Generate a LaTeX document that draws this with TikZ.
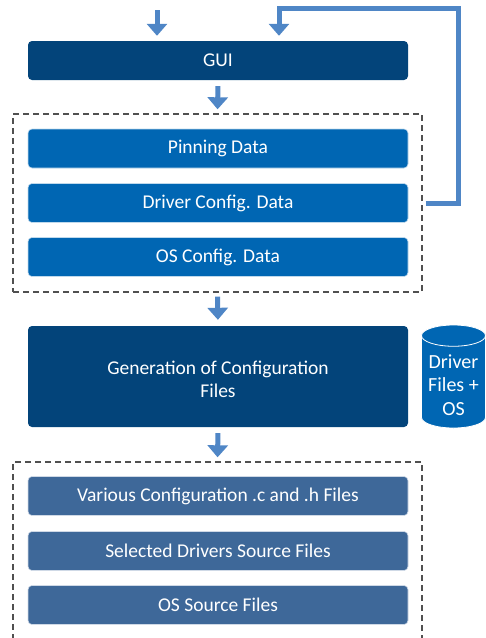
\documentclass[tikz,border=0pt]{standalone}
\usepackage{fontspec}
\setmainfont{Carlito}
\usepackage{tikz}
\usetikzlibrary{arrows.meta}
\usetikzlibrary{shapes.geometric}
\definecolor{guiblue}{HTML}{03447A}
\definecolor{datablue}{HTML}{0066B3}
\definecolor{fileblue}{HTML}{3E6899}
\definecolor{arrowblue}{HTML}{4F86C6}
\definecolor{frame}{HTML}{505050}

\begin{document}
\begin{tikzpicture}[
	x=1pt, y=-1pt,
	box/.style = {
		rectangle, rounded corners=4pt,
		minimum width=380pt, minimum height=39pt,
		text=white, font=\fontsize{19.5}{23}\selectfont,
		align=center, inner sep=0pt
	},
	databox/.style = {box, fill=datablue, draw=white!75!datablue, line width=0.6pt},
	filebox/.style = {box, fill=fileblue, draw=white!75!fileblue, line width=0.6pt},
	mainbox/.style = {box, fill=guiblue},
	group/.style = {
		rectangle, draw=frame, line width=1.4pt,
		dash pattern=on 6pt off 4pt,
		minimum width=409pt, inner sep=0pt
	},
	flow/.style = {
		draw=arrowblue, line width=5pt,
		-{Triangle[width=20pt, length=12pt]}
	},
	store/.style = {
		cylinder, shape border rotate=90, aspect=0.42,
		fill=datablue, draw=white, line width=0.8pt,
		minimum width=64pt, minimum height=103pt,
		inner sep=0pt, text=white, align=center,
		font=\fontsize{20}{23.5}\selectfont
	}
]
	\clip (0, 0) rectangle (486, 638);
	% GUI
	\node[mainbox] (gui) at (218, 60.5) {GUI};
	\coordinate (in) at (157, 10);
	\coordinate (ret) at (279, 8);
	% Configuration data
	\node[group, minimum height=178pt] (data) at (217.5, 203) {};
	\node[databox] (pin) at (218, 148.5) {Pinning Data};
	\node[databox] (drv) at (218, 203) {Driver Config. Data};
	\node[databox] (os) at (218, 257) {OS Config. Data};
	% Generation
	\node[mainbox, minimum height=101pt] (gen) at (218, 376.5)
		{\rule{0pt}{20pt}Generation of Configuration\\Files};
	\node[store, anchor=shape center] (lib) at (453.5, 376.5)
		{\rule{0pt}{20pt}Driver\\Files +\\OS};
	% Generated files
	\node[group, minimum height=200pt] (files) at (217.5, 562) {};
	\node[filebox] (cfg) at (218, 496) {Various Configuration .c and .h Files};
	\node[filebox] (src) at (218, 551) {Selected Drivers Source Files};
	\node[filebox] (ossrc) at (218, 605) {OS Source Files};
	% Flow
	\draw[flow, shorten >=5pt] (in) -- (in |- gui.north);
	\draw[flow, shorten <=6pt, shorten >=4pt] (gui.south) -- (data.north);
	\draw[flow, shorten <=4pt, shorten >=6pt] (data.south) -- (gen.north);
	\draw[flow, shorten <=6pt, shorten >=4pt] (gen.south) -- (files.north);
	% Feedback
	\draw[flow, shorten <=3pt, shorten >=5pt] (data.east |- drv)
		-- ++(36, 0) |- (ret) -- (ret |- gui.north);
\end{tikzpicture}
\end{document}
